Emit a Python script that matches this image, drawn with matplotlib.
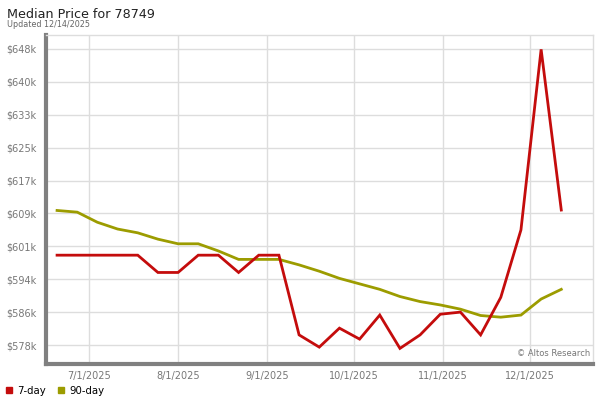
import numpy as np
import pandas as pd
import matplotlib
matplotlib.use("Agg")
import matplotlib.pyplot as plt
import matplotlib.dates as mdates
from matplotlib.lines import Line2D

# weekly observation dates
dates = pd.to_datetime([
    "2025-06-20", "2025-06-27", "2025-07-04", "2025-07-11", "2025-07-18",
    "2025-07-25", "2025-08-01", "2025-08-08", "2025-08-15", "2025-08-22",
    "2025-08-29", "2025-09-05", "2025-09-12", "2025-09-19", "2025-09-26",
    "2025-10-03", "2025-10-10", "2025-10-17", "2025-10-24", "2025-10-31",
    "2025-11-07", "2025-11-14", "2025-11-21", "2025-11-28", "2025-12-05",
    "2025-12-12",
])

# median price in $k
price_7day = [599.3, 599.3, 599.3, 599.3, 599.3, 595.2, 595.2, 599.3, 599.3, 595.2,
              599.3, 599.3, 580.4, 577.5, 582.0, 579.4, 585.1, 577.2, 580.4, 585.3,
              585.8, 580.4, 589.3, 605.3, 648.1, 610.0]
price_90day = [609.9, 609.5, 607.1, 605.5, 604.6, 603.1, 602.0, 602.0, 600.3, 598.3,
               598.3, 598.3, 597.0, 595.5, 593.8, 592.5, 591.2, 589.5, 588.3, 587.5,
               586.5, 585.0, 584.6, 585.1, 588.9, 591.2]

y_ticks = [578.0, 585.8, 593.6, 601.4, 609.2, 617.0, 624.8, 632.6, 640.4, 648.2]
x_ticks = pd.to_datetime(["2025-07-01", "2025-08-01", "2025-09-01",
                          "2025-10-01", "2025-11-01", "2025-12-01"])

red = "#c40c0c"
olive = "#9c9c00"

fig = plt.figure(figsize=(6, 4), dpi=100)
ax = fig.add_axes([0.0767, 0.09, 0.9116, 0.8225])

ax.plot(dates, price_90day, color=olive, linewidth=2.0, solid_joinstyle="miter")
ax.plot(dates, price_7day, color=red, linewidth=2.0, solid_joinstyle="miter")

ax.set_ylim(573.5, 651.5)
ax.set_xlim(pd.Timestamp("2025-06-16 04:00"), pd.Timestamp("2025-12-23"))

ax.set_yticks(y_ticks)
ax.set_yticklabels(["$%.0fk" % v for v in y_ticks])
ax.set_xticks(x_ticks)
ax.xaxis.set_major_formatter(mdates.DateFormatter("%-m/%-d/%Y"))

ax.tick_params(axis="both", length=0, labelsize=7, colors="#777777")
ax.tick_params(axis="y", pad=7)
ax.tick_params(axis="x", pad=5)

ax.grid(True, color="#dddddd", linewidth=1)
ax.set_axisbelow(True)

for s in ["top", "right"]:
    ax.spines[s].set_color("#dddddd")
    ax.spines[s].set_linewidth(1)
for s in ["left", "bottom"]:
    ax.spines[s].set_color("#808080")
    ax.spines[s].set_linewidth(3)

ax.text(0.995, 0.018, "© Altos Research", transform=ax.transAxes, ha="right",
        va="bottom", fontsize=6, color="#777777")

fig.text(0.012, 0.965, "Median Price for 78749", fontsize=9.2, color="#222222",
         ha="left", va="center")
fig.text(0.012, 0.938, "Updated 12/14/2025", fontsize=5.8, color="#666666",
         ha="left", va="center")

handles = [Line2D([], [], marker="s", linestyle="none", color=red, markersize=4),
           Line2D([], [], marker="s", linestyle="none", color=olive, markersize=4)]
fig.legend(handles, ["7-day", "90-day"], loc="lower left", bbox_to_anchor=(-0.008, -0.012),
           ncol=2, frameon=False, fontsize=7.3, handletextpad=0.3, columnspacing=1.0,
           handlelength=1.0)

fig.savefig("out.png", dpi=100)
